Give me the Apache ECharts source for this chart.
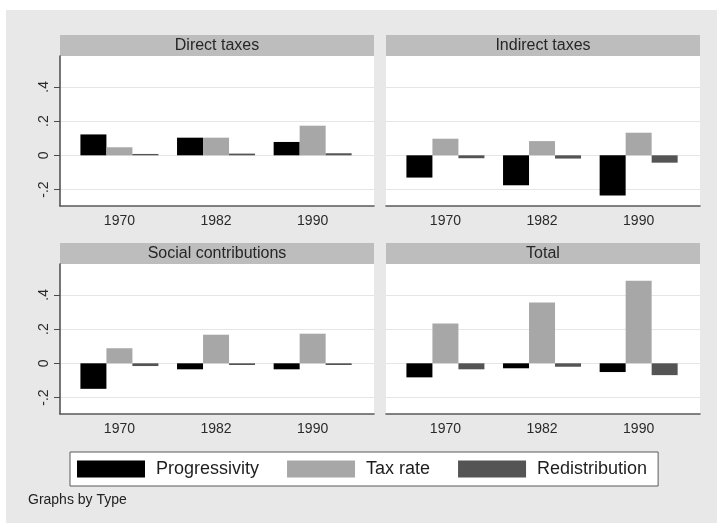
<!DOCTYPE html>
<html>
<head>
<meta charset="utf-8">
<script src="https://cdn.jsdelivr.net/npm/echarts@6/dist/echarts.min.js"></script>
<style>
  html, body { margin: 0; padding: 0; background: #ffffff; }
  #chart { width: 717px; height: 526px; }
</style>
</head>
<body>
<div id="chart"></div>
<script>
// Categories and values
const years = ['1970', '1982', '1990'];
const types = ['Direct taxes', 'Indirect taxes', 'Social contributions', 'Total'];
const seriesNames = ['Progressivity', 'Tax rate', 'Redistribution'];

// One row per type, one value per year
const progressivity = [
  [0.122, 0.103, 0.078],
  [-0.130, -0.175, -0.235],
  [-0.149, -0.035, -0.035],
  [-0.082, -0.029, -0.051]
];
const taxRate = [
  [0.047, 0.103, 0.173],
  [0.097, 0.083, 0.132],
  [0.088, 0.167, 0.173],
  [0.233, 0.355, 0.482]
];
const redistribution = [
  [0.008, 0.010, 0.012],
  [-0.017, -0.019, -0.043],
  [-0.016, -0.010, -0.010],
  [-0.035, -0.020, -0.069]
];

const yTicks = [-0.2, 0, 0.2, 0.4];
const yRange = [-0.296, 0.58];

// Layout of the 2x2 panel grid
const panelLayout = [
  { left: 60, top: 56, yAxisShown: true },
  { left: 386, top: 56, yAxisShown: false },
  { left: 60, top: 264, yAxisShown: true },
  { left: 386, top: 264, yAxisShown: false }
];
const panelW = 314, panelH = 150, headerH = 21;
const colors = ['#000000', '#a7a7a7', '#545454'];
const FONT = '"Liberation Sans", Arial, Helvetica, sans-serif';

function fmtTick(v) {
  if (v === 0) return '0';
  const s = String(Math.abs(v)).replace(/^0/, '');
  return (v < 0 ? '-' : '') + s;
}

const grids = [], xAxes = [], yAxes = [], series = [], graphics = [];

// Page background
graphics.push({
  type: 'rect', z: -10, silent: true,
  shape: { x: 6, y: 10, width: 711, height: 513 },
  style: { fill: '#e8e8e8' }
});

const valueSets = [progressivity, taxRate, redistribution];

types.forEach((t, i) => {
  const p = panelLayout[i];
  grids.push({
    left: p.left, top: p.top, width: panelW, height: panelH,
    show: true, backgroundColor: '#ffffff', borderWidth: 0
  });
  // Header strip with panel title
  graphics.push({
    type: 'rect', silent: true,
    shape: { x: p.left, y: p.top - headerH, width: panelW, height: headerH },
    style: { fill: '#bdbdbd' }
  });
  graphics.push({
    type: 'text', silent: true,
    x: p.left + panelW / 2, y: p.top - headerH / 2 + 0.5,
    style: {
      text: t, fill: '#262626', font: '16px ' + FONT,
      align: 'center', verticalAlign: 'middle'
    }
  });

  xAxes.push({
    gridIndex: i, type: 'value', min: -0.615, max: 2.635,
    axisLine: { show: true, onZero: false, lineStyle: { color: '#5a5a5a', width: 1.5 } },
    axisTick: { show: false },
    splitLine: { show: false },
    axisLabel: {
      customValues: years.map((y, k) => k),
      formatter: v => years[Math.round(v)],
      color: '#2a2a2a', fontSize: 14, fontFamily: FONT, margin: 8
    }
  });
  yAxes.push({
    gridIndex: i, type: 'value', min: yRange[0], max: yRange[1],
    axisLine: { show: p.yAxisShown, onZero: false, lineStyle: { color: '#4a4a4a', width: 1.5 } },
    axisTick: {
      show: p.yAxisShown, customValues: yTicks, length: 6,
      lineStyle: { color: '#4a4a4a' }
    },
    axisLabel: {
      show: p.yAxisShown, customValues: yTicks, rotate: 90,
      formatter: fmtTick, color: '#2a2a2a', fontSize: 14,
      fontFamily: FONT, margin: 9
    },
    splitLine: { show: true, lineStyle: { color: '#e6e6e6', width: 1 } }
  });

  seriesNames.forEach((name, s) => {
    series.push({
      type: 'bar', name: name,
      xAxisIndex: i, yAxisIndex: i,
      barWidth: 26, barGap: '0%',
      itemStyle: { color: colors[s] },
      data: valueSets[s][i].map((v, k) => [k, v]),
      silent: true, animation: false
    });
  });
});

const chart = echarts.init(document.getElementById('chart'), null, { renderer: 'canvas' });
chart.setOption({
  backgroundColor: '#ffffff',
  animation: false,
  grid: grids,
  xAxis: xAxes,
  yAxis: yAxes,
  series: series,
  legend: {
    data: seriesNames,
    left: 70, top: 452,
    orient: 'horizontal',
    icon: 'rect',
    itemWidth: 68, itemHeight: 17, itemGap: 28,
    padding: [8, 11, 8, 7],
    backgroundColor: '#ffffff',
    borderColor: '#5a5a5a', borderWidth: 1,
    selectedMode: false,
    textStyle: {
      fontSize: 18, fontFamily: FONT, color: '#1e1e1e',
      lineHeight: 17, padding: [0, 0, 0, 6]
    }
  },
  graphic: graphics.concat([{
    type: 'text', silent: true, x: 28, y: 500,
    style: {
      text: 'Graphs by Type', fill: '#222222', font: '14px ' + FONT,
      verticalAlign: 'middle'
    }
  }])
});
</script>
</body>
</html>
